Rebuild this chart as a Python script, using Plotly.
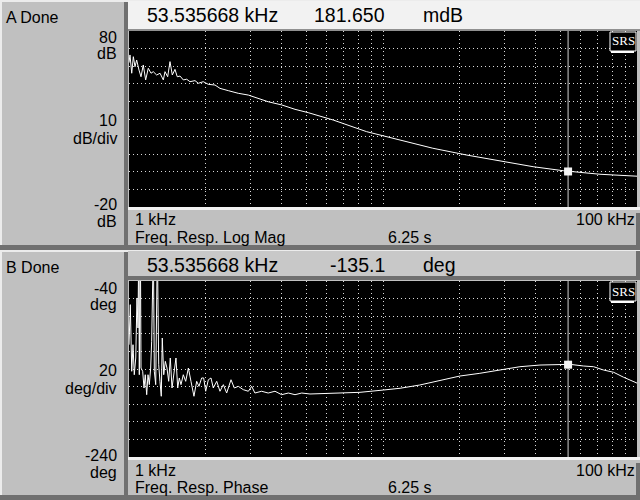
import math
import plotly.graph_objects as go

# ---------------- data ----------------
mag_freq_khz = [1.000, 1.009, 1.025, 1.040, 1.056, 1.072, 1.095, 1.115, 1.138, 1.163, 1.191, 1.221,
                1.246, 1.285, 1.325, 1.365, 1.386, 1.420, 1.450, 1.481, 1.517, 1.549, 1.588, 1.636,
                1.687, 1.738, 1.819, 1.875, 1.961, 2.052, 2.181, 2.282, 2.460, 2.693, 2.950, 3.228,
                3.532, 3.990, 4.504, 5.08, 5.82, 6.37, 8.62, 11.7, 15.7, 21.4, 28.9, 39.0, 51.3,
                61.3, 71.5, 100.0]
mag_db = [62.0, 66.4, 56.0, 65.4, 59.7, 63.5, 57.8, 54.0, 60.7, 52.2, 58.8, 56.0,
          56.9, 55.0, 56.0, 52.2, 56.9, 54.0, 62.6, 55.0, 58.2, 54.0, 54.4, 52.2,
          52.6, 51.2, 51.8, 50.3, 51.2, 49.7, 49.3, 47.4, 46.1, 44.6, 43.6, 41.8,
          39.8, 38.0, 35.5, 33.6, 31.0, 29.4, 22.8, 18.1, 13.4, 9.5, 6.1, 2.9, 0.6,
          -0.5, -1.4, -2.5]

phase_freq_khz = [1.000, 1.012, 1.025, 1.037, 1.049, 1.063, 1.075, 1.085, 1.092, 1.098, 1.108, 1.115,
                  1.132, 1.146, 1.159, 1.174, 1.188, 1.202, 1.217, 1.228, 1.247, 1.258, 1.274, 1.293,
                  1.309, 1.324, 1.340, 1.352, 1.370, 1.390, 1.411, 1.433, 1.454, 1.477, 1.503, 1.531,
                  1.555, 1.578, 1.602, 1.636, 1.672, 1.713, 1.754, 1.802, 1.847, 1.886, 1.932, 1.968,
                  2.004, 2.053, 2.103, 2.147, 2.215, 2.281, 2.352, 2.424, 2.521, 2.598, 2.693, 2.819,
                  2.950, 3.041, 3.131, 3.327, 3.532, 3.757, 3.990, 4.238, 4.504, 4.786, 5.159, 5.561,
                  6.78, 8.12, 10.04, 11.67, 13.95, 16.74, 20.07, 24.06, 28.9, 34.6, 41.5, 49.8,
                  54.5, 61.6, 67.5, 73.7, 81.0, 88.6, 96.3, 100.0]
phase_deg = [-112.4, -66.9, -142.6, -112.4, -146.5, -127.5, -59.3, -93.4, 0.0, -146.5, 20.0, -138.9,
             -142.6, -161.6, -146.5, -169.2, -146.5, -157.8, -138.9, -108.5, 0.0, -142.6, -157.8, 0.0,
             -135.1, -154.0, -171.0, -104.8, -146.5, -131.3, -138.9, -154.0, -127.5, -161.6, -142.6, -127.5,
             -161.6, -150.2, -157.8, -146.5, -154.0, -138.9, -154.0, -171.0, -154.0, -159.7, -150.2, -150.2,
             -165.3, -152.2, -150.2, -161.6, -154.0, -165.3, -157.8, -167.3, -152.2, -161.6, -159.7, -163.5,
             -165.3, -159.7, -167.3, -165.3, -167.3, -165.3, -169.2, -167.3, -169.2, -167.3, -168.4, -168.1,
             -167.6, -166.5, -163.9, -161.9, -158.2, -153.3, -148.0, -144.9, -141.1, -137.4, -135.5, -134.7,
             -134.7, -136.6, -137.4, -141.1, -143.8, -149.4, -154.4, -156.0]

cursor_khz = 53.535668
cursor_mag_mdb = 181.650
cursor_phase_deg = -135.1

mag_range = [-20, 80]
phase_range = [-240, -40]
freq_range_khz = [1, 100]

# ---------------- layout helpers ----------------
W, H = 640, 500
def fx(x):
    return x / W
def fy(y):
    return 1 - y / H

GRAY = "#c0c0c0"
LIGHT = "#f2f2f2"
HATCH = "#707070"
FONT = "Liberation Sans, Arial, sans-serif"

fig = go.Figure()
fig.add_trace(go.Scatter(x=mag_freq_khz, y=mag_db, mode="lines",
                         line=dict(color="white", width=1), xaxis="x", yaxis="y",
                         hoverinfo="skip", showlegend=False))
fig.add_trace(go.Scatter(x=phase_freq_khz, y=phase_deg, mode="lines",
                         line=dict(color="white", width=1), xaxis="x2", yaxis="y2",
                         hoverinfo="skip", showlegend=False))
# cursor markers
fig.add_trace(go.Scatter(x=[cursor_khz], y=[cursor_mag_mdb / 1000.0], mode="markers",
                         marker=dict(symbol="square", size=8, color="#f4f4f4", line=dict(width=0)),
                         xaxis="x", yaxis="y", hoverinfo="skip", showlegend=False))
fig.add_trace(go.Scatter(x=[cursor_khz], y=[cursor_phase_deg], mode="markers",
                         marker=dict(symbol="square", size=8, color="#f4f4f4", line=dict(width=0)),
                         xaxis="x2", yaxis="y2", hoverinfo="skip", showlegend=False))

grid = dict(showgrid=True, gridcolor="#d8d8d8", griddash="1px,3px", gridwidth=1,
            showticklabels=False, ticks="", showline=False, zeroline=False, fixedrange=True)
xdom = [fx(129), fx(637)]
lo, hi = math.log10(freq_range_khz[0]), math.log10(freq_range_khz[1])
fig.update_layout(
    width=W, height=H, margin=dict(l=0, r=0, t=0, b=0),
    paper_bgcolor=GRAY, plot_bgcolor="black", showlegend=False,
    xaxis=dict(type="log", range=[lo, hi], dtick="D1", domain=xdom, anchor="y", **grid),
    yaxis=dict(range=mag_range, dtick=10, domain=[fy(207), fy(31)], anchor="x", **grid),
    xaxis2=dict(type="log", range=[lo, hi], dtick="D1", domain=xdom, anchor="y2", **grid),
    yaxis2=dict(range=phase_range, dtick=20, domain=[fy(457), fy(281)], anchor="x2", **grid),
)

shapes = []
def rect(x0, y0, x1, y1, color, layer="below"):
    shapes.append(dict(type="rect", xref="paper", yref="paper", x0=fx(x0), x1=fx(x1),
                       y0=fy(y1), y1=fy(y0), fillcolor=color, line=dict(width=0), layer=layer))

for off, hdr in ((0, LIGHT), (250, "#c8c8c8")):
    rect(0, off, 640, off + 2, "#ececec")
    rect(0, off, 2, off + 245, "#ececec")
    rect(128, off + 1, 640, off + 29, hdr)
    if off == 250:
        rect(128, off + 26, 640, off + 30, HATCH)
        rect(636, off + 1, 640, off + 28, HATCH)
    else:
        rect(128, off + 29, 640, off + 31, "#909090")
    rect(124, off + 2, 128, off + 250, HATCH, layer="above")
    rect(128, off + 207, 640, off + 210, LIGHT, layer="above")
    rect(637, off + 31, 640, off + 207, GRAY, layer="above")
    rect(636, off + 213, 640, off + 250, HATCH, layer="above")
    rect(0, off + 245, 640, off + 250, HATCH, layer="above")

# cursor lines (log axes: shapes take data values)
for xr, yr in (("x", "y"), ("x2", "y2")):
    shapes.append(dict(type="line", xref=xr, yref=yr + " domain", x0=cursor_khz, x1=cursor_khz,
                       y0=0, y1=1, line=dict(color="#d0d0d0", width=1), layer="below"))

# SRS logos
for off in (0, 250):
    shapes.append(dict(type="rect", xref="paper", yref="paper", x0=fx(610), x1=fx(636),
                       y0=fy(off + 51), y1=fy(off + 32), fillcolor="black",
                       line=dict(color="white", width=1), layer="above"))
    shapes.append(dict(type="line", xref="paper", yref="paper", x0=fx(611), x1=fx(634),
                       y0=fy(off + 52), y1=fy(off + 52), line=dict(color="white", width=2),
                       layer="above"))

fig.update_layout(shapes=shapes)

ann = []
def text(s, x, y, anchor="left", size=16, color="black", family=FONT):
    ann.append(dict(text=s, x=fx(x), y=fy(y), xref="paper", yref="paper", showarrow=False,
                    xanchor=anchor, yanchor="middle",
                    font=dict(family=family, size=size, color=color)))

panels = [
    dict(off=0, name="A Done", top="80", topu="dB", mid="10", midu="dB/div", bot="-20", botu="dB",
         val=f"{cursor_mag_mdb:.3f}", unit="mdB", meas="Freq. Resp. Log Mag"),
    dict(off=250, name="B Done", top="-40", topu="deg", mid="20", midu="deg/div", bot="-240",
         botu="deg", val=f"{cursor_phase_deg:.1f}", unit="deg", meas="Freq. Resp. Phase"),
]
for p in panels:
    o = p["off"]
    text(p["name"], 4, o + 17)
    text(p["top"], 119, o + 38, "right")
    text(p["topu"], 119, o + 54, "right")
    text(p["mid"], 119, o + 120, "right")
    text(p["midu"], 119, o + 138, "right")
    text(p["bot"], 119, o + 205, "right")
    text(p["botu"], 119, o + 222, "right")
    text(f"{cursor_khz:.6f} kHz", 145, o + 15, size=19.5)
    text(p["val"], 387, o + 15, "right", size=19.5)
    text(p["unit"], 421, o + 15, size=19.5)
    text(f"{freq_range_khz[0]:g} kHz", 133, o + 220)
    text(f"{freq_range_khz[1]:g} kHz", 637, o + 220, "right")
    text(p["meas"], 133, o + 237)
    text("6.25 s", 386, o + 237)
    text("SRS", 623, o + 41, "center", size=13, color="white",
         family="Liberation Serif, Times New Roman, serif")

fig.update_layout(annotations=ann)
fig.write_html("out.html", config={"displayModeBar": False},
               post_script="document.body.style.margin='0';document.body.style.overflow='hidden';")
